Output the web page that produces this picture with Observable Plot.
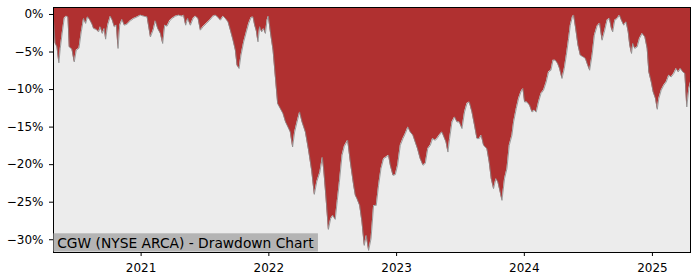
<!DOCTYPE html>
<html>
<head>
<meta charset="utf-8">
<script src="https://cdn.jsdelivr.net/npm/d3@7"></script>
<script src="https://cdn.jsdelivr.net/npm/@observablehq/plot@0.6"></script>
<style>
  html, body { margin: 0; padding: 0; background: #ffffff; }
  #chart { width: 700px; height: 280px; }
</style>
</head>
<body>
<div id="chart"></div>
<script>
// Time as decimal years
const years = [
  2020.316, 2020.329, 2020.343, 2020.358, 2020.369, 2020.384, 2020.400, 2020.416, 2020.429, 2020.439,
  2020.460, 2020.478, 2020.494, 2020.515, 2020.533, 2020.551, 2020.567, 2020.582, 2020.598, 2020.617,
  2020.629, 2020.650, 2020.668, 2020.682, 2020.697, 2020.713, 2020.723, 2020.739, 2020.760, 2020.775,
  2020.791, 2020.807, 2020.820, 2020.833, 2020.851, 2020.869, 2020.890, 2020.916, 2020.942, 2020.969,
  2020.995, 2021.020, 2021.047, 2021.073, 2021.094, 2021.112, 2021.130, 2021.151, 2021.169, 2021.185,
  2021.203, 2021.224, 2021.243, 2021.268, 2021.294, 2021.321, 2021.333, 2021.349, 2021.365, 2021.386,
  2021.407, 2021.425, 2021.446, 2021.464, 2021.485, 2021.511, 2021.537, 2021.563, 2021.581, 2021.599,
  2021.621, 2021.642, 2021.660, 2021.681, 2021.699, 2021.720, 2021.738, 2021.751, 2021.767, 2021.782,
  2021.803, 2021.824, 2021.842, 2021.861, 2021.876, 2021.889, 2021.902, 2021.915, 2021.928, 2021.944,
  2021.959, 2021.973, 2021.986, 2021.996, 2022.012, 2022.033, 2022.051, 2022.069, 2022.090, 2022.111,
  2022.131, 2022.150, 2022.168, 2022.186, 2022.202, 2022.221, 2022.241, 2022.260, 2022.286, 2022.311,
  2022.335, 2022.356, 2022.376, 2022.399, 2022.419, 2022.430, 2022.446, 2022.466, 2022.484, 2022.501,
  2022.520, 2022.536, 2022.552, 2022.573, 2022.591, 2022.617, 2022.638, 2022.664, 2022.677, 2022.690,
  2022.711, 2022.729, 2022.747, 2022.763, 2022.781, 2022.800, 2022.820, 2022.841, 2022.859, 2022.878,
  2022.898, 2022.919, 2022.937, 2022.951, 2022.972, 2022.990, 2023.008, 2023.029, 2023.050, 2023.068,
  2023.089, 2023.107, 2023.128, 2023.146, 2023.164, 2023.185, 2023.207, 2023.225, 2023.244, 2023.264,
  2023.282, 2023.303, 2023.316, 2023.334, 2023.355, 2023.376, 2023.387, 2023.402, 2023.415, 2023.434,
  2023.454, 2023.473, 2023.491, 2023.512, 2023.532, 2023.551, 2023.569, 2023.590, 2023.610, 2023.629,
  2023.647, 2023.663, 2023.681, 2023.707, 2023.725, 2023.741, 2023.759, 2023.778, 2023.793, 2023.811,
  2023.825, 2023.845, 2023.864, 2023.882, 2023.903, 2023.916, 2023.937, 2023.955, 2023.973, 2023.989,
  2024.002, 2024.020, 2024.041, 2024.060, 2024.078, 2024.093, 2024.111, 2024.130, 2024.150, 2024.171,
  2024.189, 2024.208, 2024.224, 2024.242, 2024.260, 2024.275, 2024.294, 2024.312, 2024.328, 2024.346,
  2024.359, 2024.375, 2024.385, 2024.401, 2024.419, 2024.437, 2024.459, 2024.477, 2024.495, 2024.510,
  2024.529, 2024.547, 2024.568, 2024.588, 2024.607, 2024.628, 2024.646, 2024.664, 2024.680, 2024.690,
  2024.706, 2024.725, 2024.743, 2024.758, 2024.776, 2024.795, 2024.811, 2024.823, 2024.837, 2024.847,
  2024.862, 2024.881, 2024.899, 2024.920, 2024.941, 2024.959, 2024.972, 2024.991, 2025.006, 2025.024,
  2025.038, 2025.050, 2025.069, 2025.089, 2025.108, 2025.128, 2025.147, 2025.167, 2025.186, 2025.202,
  2025.220, 2025.238, 2025.254, 2025.269, 2025.285, 2025.298
];

// Drawdown in percent
const drawdownPct = [
  -0.80, -3.83, -4.32, -6.45, -4.49, -2.49, -0.49, -0.23, -0.36, -4.32,
  -4.63, -6.32, -4.76, -4.49, -2.32, -0.53, -1.20, -0.32, -0.67, -1.29,
  -1.87, -2.00, -2.32, -1.65, -2.53, -1.87, -3.29, -1.43, -0.23, -0.76,
  -1.65, -1.43, -4.53, -1.43, -0.67, -1.43, -1.29, -0.85, -0.53, -0.32,
  -0.09, -0.23, -0.32, -2.99, -2.09, -0.85, -1.87, -2.53, -3.87, -1.43,
  -1.56, -0.85, -0.53, -0.23, -0.09, -0.23, -0.09, -1.43, -0.53, -1.43,
  -0.53, -0.23, -0.53, -2.09, -1.65, -1.20, -0.76, -0.23, -0.09, -0.32,
  -0.76, -0.23, -0.53, -0.99, -2.09, -3.43, -4.76, -6.76, -7.20, -5.43,
  -3.65, -2.32, -1.20, -0.40, -0.32, -1.43, -2.19, -3.65, -1.65, -2.32,
  -1.87, -2.53, -0.76, -0.23, -2.32, -4.76, -8.32, -11.87, -12.53, -13.20,
  -14.32, -14.99, -15.65, -17.65, -15.65, -14.32, -12.99, -14.32, -15.65, -18.09,
  -20.76, -23.96, -22.23, -21.03, -19.03, -20.76, -24.09, -28.63, -27.20, -26.76,
  -27.29, -24.76, -22.36, -18.76, -17.56, -16.76, -19.65, -22.76, -24.09, -24.53,
  -25.43, -27.65, -30.76, -29.43, -31.43, -29.87, -25.43, -25.43, -22.76, -20.53,
  -19.20, -18.99, -18.76, -20.09, -21.43, -21.33, -20.09, -17.43, -16.53, -15.87,
  -14.99, -15.65, -16.09, -16.99, -17.87, -19.20, -20.09, -19.83, -17.87, -17.43,
  -16.53, -16.76, -16.53, -16.09, -15.65, -16.53, -16.99, -18.32, -16.53, -14.32,
  -13.65, -14.32, -14.32, -15.20, -12.99, -11.87, -11.65, -12.99, -14.76, -16.53,
  -16.53, -16.09, -17.43, -17.87, -19.65, -21.87, -23.20, -21.87, -22.32, -23.65,
  -24.76, -21.87, -20.53, -17.43, -16.09, -14.32, -12.53, -11.20, -10.32, -9.87,
  -11.65, -11.65, -12.09, -12.99, -12.76, -12.99, -11.65, -10.53, -10.09, -8.99,
  -7.65, -7.43, -6.09, -6.09, -6.53, -7.20, -8.53, -7.20, -5.43, -3.20,
  -1.43, -0.32, -0.09, -1.87, -4.09, -5.43, -5.65, -5.87, -6.76, -7.43,
  -5.43, -2.76, -1.56, -1.16, -3.43, -2.09, -0.76, -0.53, -1.87, -2.32,
  -0.76, -0.53, -0.09, -0.76, -1.43, -0.99, -2.32, -4.09, -5.20, -3.87,
  -4.53, -4.32, -3.20, -2.53, -2.99, -4.53, -7.65, -8.99, -10.32, -11.20,
  -12.63, -11.20, -10.09, -9.43, -8.99, -8.09, -8.32, -7.87, -7.20, -7.65,
  -7.20, -7.65, -7.87, -12.32, -9.87, -8.99
];

const yTicks = [0, -0.05, -0.10, -0.15, -0.20, -0.25, -0.30];
const xTickYears = [2021, 2022, 2023, 2024, 2025];
const titleText = "CGW (NYSE ARCA) - Drawdown Chart";
const yDomain = [-0.317, 0.0093];

function fromDecimalYear(t) {
  const y = Math.floor(t);
  const a = Date.UTC(y, 0, 1), b = Date.UTC(y + 1, 0, 1);
  return new Date(a + (t - y) * (b - a));
}

const data = years.map((t, i) => ({date: fromDecimalYear(t), dd: drawdownPct[i] / 100}));
const xTicks = xTickYears.map(y => new Date(Date.UTC(y, 0, 1)));

const fmtPct = v => {
  const p = Math.round(v * 100);
  return p === 0 ? "0%" : (p < 0 ? "\u2212" : "") + Math.abs(p) + "%";
};

const chart = Plot.plot({
  width: 700,
  height: 280,
  marginLeft: 53,
  marginRight: 10,
  marginTop: 7,
  marginBottom: 28,
  style: {fontFamily: "DejaVu Sans", fontSize: "12px", color: "#000", background: "#ffffff"},
  x: {type: "utc", domain: d3.extent(data, d => d.date)},
  y: {domain: yDomain},
  marks: [
    Plot.frame({fill: "#ececec", stroke: "none"}),
    Plot.areaY(data, {x: "date", y1: yDomain[1], y2: "dd", fill: "#b03030"}),
    Plot.line(data, {x: "date", y: "dd", stroke: "#8a8a8a", strokeWidth: 1, strokeOpacity: 0.8}),
    Plot.frame({stroke: "#000", strokeWidth: 1}),
    Plot.axisY({ticks: yTicks, tickFormat: fmtPct, tickSize: 4, tickPadding: 6, label: null, fontSize: 12}),
    Plot.axisX({ticks: xTicks, tickFormat: d3.utcFormat("%Y"), tickSize: 4, tickPadding: 7, label: null, fontSize: 12}),
    Plot.text([titleText], {frameAnchor: "bottom-left", text: d => d, dx: 3.7, dy: -4.4, lineAnchor: "bottom", textAnchor: "start", fontSize: 13.8, fill: "#000"})
  ]
});

document.getElementById("chart").appendChild(chart);

// background box behind the chart's label
const svg = chart.tagName.toLowerCase() === "svg" ? chart : chart.querySelector("svg");
const label = Array.from(svg.querySelectorAll("text")).find(t => t.textContent === titleText);
if (label) {
  const sr = svg.getBoundingClientRect();
  const br = label.getBoundingClientRect();
  const g = label.closest("g") || label;
  const rect = document.createElementNS("http://www.w3.org/2000/svg", "rect");
  const x0 = 53.5;
  const top = br.top - sr.top - 1.8;
  const right = br.right - sr.left + 3.7;
  rect.setAttribute("x", x0);
  rect.setAttribute("y", top);
  rect.setAttribute("width", right - x0);
  rect.setAttribute("height", 251.5 - top);
  rect.setAttribute("fill", "#b4b4b4");
  g.parentNode.insertBefore(rect, g);
}
</script>
</body>
</html>
